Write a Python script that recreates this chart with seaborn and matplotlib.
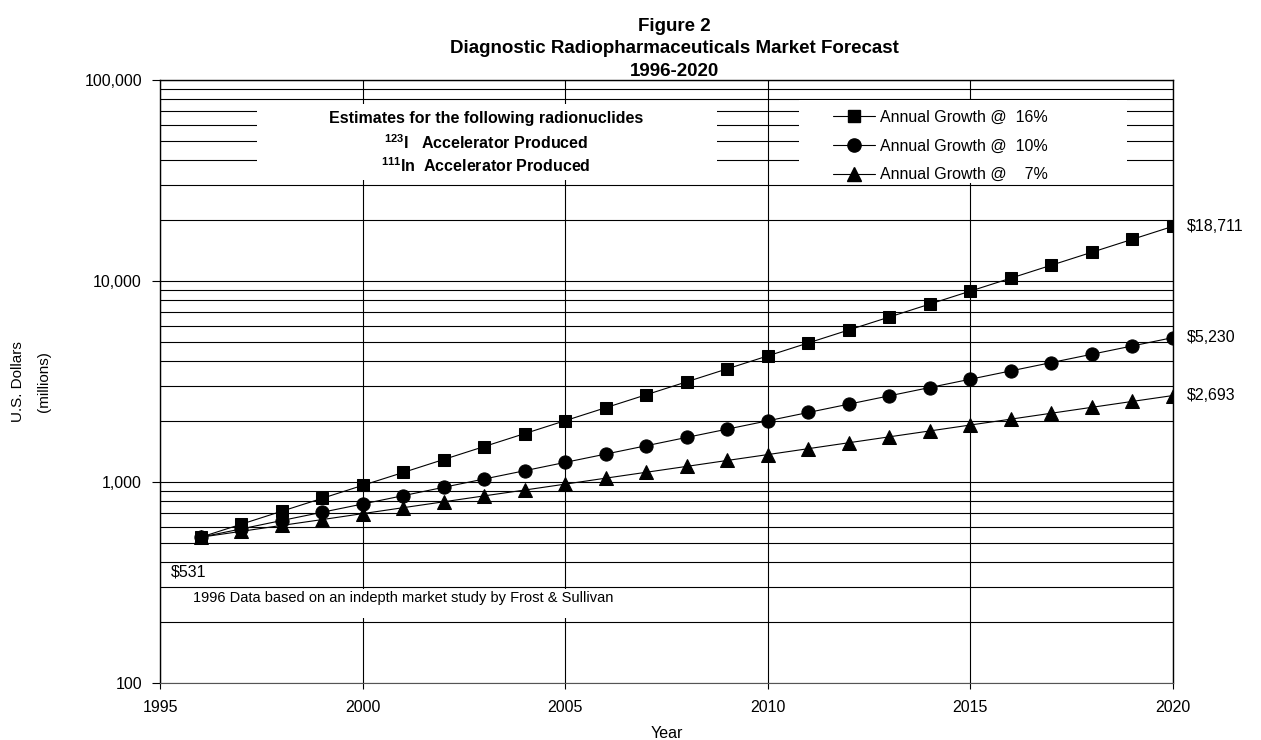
import matplotlib
matplotlib.use("Agg")
import matplotlib.pyplot as plt
from matplotlib.patches import Rectangle
from matplotlib.lines import Line2D
from matplotlib.ticker import FixedLocator, NullFormatter, LogLocator
import seaborn as sns
import pandas as pd

# ---------------- data ----------------
years = list(range(1996, 2021))
growth_16 = [531, 616, 715, 829, 962, 1115, 1294, 1501, 1741, 2019, 2342, 2717,
             3152, 3656, 4241, 4920, 5707, 6620, 7680, 8908, 10334, 11987, 13905,
             16130, 18711]
growth_10 = [531, 584, 643, 707, 777, 855, 941, 1035, 1138, 1252, 1377, 1515,
             1667, 1833, 2016, 2218, 2440, 2684, 2952, 3247, 3572, 3929, 4322,
             4754, 5230]
growth_7 = [531, 568, 608, 650, 696, 745, 797, 853, 912, 976, 1045, 1118,
            1196, 1280, 1369, 1465, 1568, 1678, 1795, 1921, 2055, 2199, 2353,
            2518, 2693]
series_labels = ["Annual Growth @  16%", "Annual Growth @  10%", "Annual Growth @    7%"]
end_labels = ["$18,711", "$5,230", "$2,693"]
start_label = "$531"
y_ticks = [100, 1000, 10000, 100000]
y_tick_labels = ["100", "1,000", "10,000", "100,000"]
x_ticks = [1995, 2000, 2005, 2010, 2015, 2020]
x_tick_labels = ["1995", "2000", "2005", "2010", "2015", "2020"]
title_text = "Figure 2\nDiagnostic Radiopharmaceuticals Market Forecast\n1996-2020"
box_lines = ["Estimates for the following radionuclides",
             "$^{123}$I   Accelerator Produced",
             "$^{111}$In  Accelerator Produced"]
note_text = "1996 Data based on an indepth market study by Frost & Sullivan"

# ---------------- style ----------------
sns.set_style("white")
plt.rcParams["font.family"] = ["Liberation Sans", "DejaVu Sans"]
plt.rcParams["mathtext.default"] = "regular"
for key in ["text.color", "axes.labelcolor", "xtick.color", "ytick.color"]:
    plt.rcParams[key] = "black"

fig = plt.figure(figsize=(12.61, 7.40), dpi=100)
ax = fig.add_axes([160 / 1261, 1 - 683 / 740, (1173 - 160) / 1261, (683 - 80) / 740])

df = pd.DataFrame({"Year": years, "g16": growth_16, "g10": growth_10, "g7": growth_7})
markers = ["s", "o", "^"]
msizes = [8.5, 9.5, 10]
cols = ["g16", "g10", "g7"]
for col, mk, ms in zip(cols, markers, msizes):
    sns.lineplot(data=df, x="Year", y=col, ax=ax, color="black", linewidth=0.8,
                 marker=mk, markersize=ms, markeredgecolor="black",
                 markerfacecolor="black", legend=False, zorder=4)

ax.set_yscale("log")
ax.set_xlim(1995, 2020)
ax.set_ylim(100, 100000)

ax.yaxis.set_major_locator(FixedLocator(y_ticks))
ax.set_yticklabels(y_tick_labels)
ax.yaxis.set_minor_locator(LogLocator(base=10, subs=range(2, 10)))
ax.yaxis.set_minor_formatter(NullFormatter())
ax.set_xticks(x_ticks)
ax.set_xticklabels(x_tick_labels)

ax.tick_params(axis="y", which="major", length=6, width=0.8, color="black",
               direction="out", left=True, labelsize=11.5, pad=7)
ax.tick_params(axis="y", which="minor", length=0, left=False)
ax.tick_params(axis="x", which="major", length=4, width=0.8, color="black",
               direction="out", bottom=True, labelsize=11.5, pad=8)

ax.set_axisbelow(True)
ax.grid(True, axis="y", which="both", color="black", linewidth=0.8)
ax.grid(True, axis="x", which="major", color="black", linewidth=0.8)

for side in ["left", "top", "right"]:
    ax.spines[side].set_visible(True)
    ax.spines[side].set_color("black")
    ax.spines[side].set_linewidth(1.0)
ax.spines["bottom"].set_visible(True)
ax.spines["bottom"].set_color("#555555")
ax.spines["bottom"].set_linewidth(0.8)

ax.set_xlabel("Year", fontsize=11.5, labelpad=8)
ax.set_ylabel("U.S. Dollars\n(millions)", fontsize=11, linespacing=2.0)
ax.yaxis.label.set_va("center")
ax.yaxis.set_label_coords((31 - 160) / 1013, 0.5)

ax.set_title(title_text, fontsize=13.5, fontweight="bold", linespacing=1.42, pad=3)
ax.title.set_x(0.508)

# ---------------- white boxes ----------------
def px_box(x0, y0, x1, y1):
    return Rectangle(((x0 - 160) / 1013, (683 - y1) / 603), (x1 - x0) / 1013,
                     (y1 - y0) / 603, transform=ax.transAxes, facecolor="white",
                     edgecolor="none", zorder=2)

ax.add_patch(px_box(257, 104, 717, 180))
ax.add_patch(px_box(799, 100, 1127, 183))
ax.add_patch(px_box(180, 589, 705, 618))

box_y = [(683 - 119) / 603, (683 - 143) / 603, (683 - 166) / 603]
for txt, yy in zip(box_lines, box_y):
    ax.text((486 - 160) / 1013, yy, txt, transform=ax.transAxes, ha="center",
            va="center", fontsize=11.5, fontweight="bold", zorder=3)

ax.text((193 - 160) / 1013, (683 - 598) / 603, note_text, transform=ax.transAxes,
        ha="left", va="center", fontsize=10.5, zorder=3)

# ---------------- legend ----------------
handles = [Line2D([0], [0], color="black", linewidth=0.8, marker=mk, markersize=ms,
                  markerfacecolor="black", markeredgecolor="black")
           for mk, ms in zip(markers, msizes)]
leg = ax.legend(handles, series_labels, loc="upper left",
                bbox_to_anchor=((833 - 160) / 1013, (683 - 110) / 603),
                frameon=False, fontsize=11.5, handlelength=2.6, handletextpad=0.35,
                labelspacing=0.85, borderpad=0, borderaxespad=0)
leg.set_zorder(5)

# ---------------- value labels ----------------
for vals, lab in zip([growth_16, growth_10, growth_7], end_labels):
    ax.annotate(lab, xy=(years[-1], vals[-1]), xytext=(10, 0),
                textcoords="offset points", ha="left", va="center",
                fontsize=11.5, annotation_clip=False)
ax.annotate(start_label, xy=(years[0], growth_16[0]), xytext=(-21, -25),
            textcoords="offset points", ha="left", va="center", fontsize=11.5)

fig.savefig("out.png", dpi=100)
